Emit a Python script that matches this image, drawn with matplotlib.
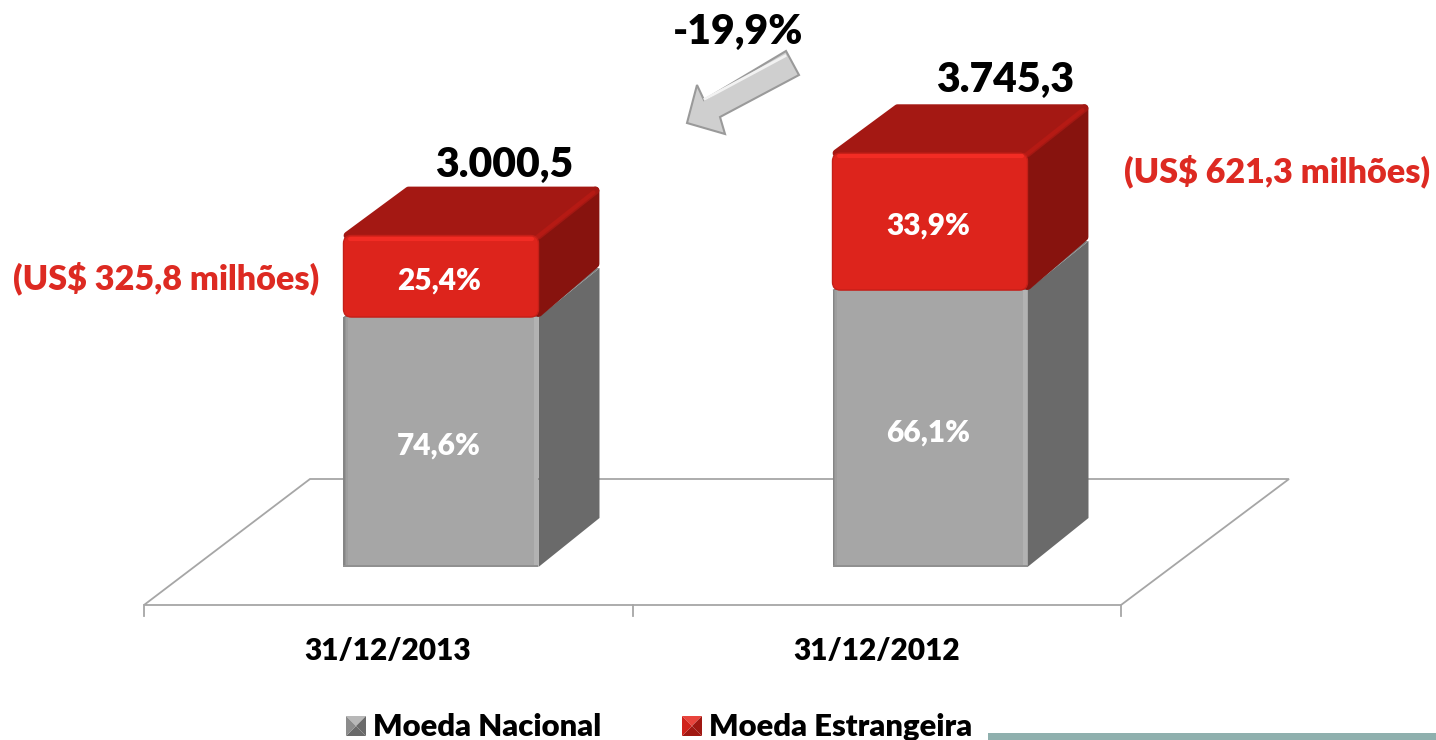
import matplotlib
matplotlib.use("Agg")
import matplotlib.pyplot as plt
from matplotlib.patches import Polygon, FancyBboxPatch, Rectangle

plt.rcParams['font.family'] = ['Lato', 'DejaVu Sans']

dates = ['31/12/2013', '31/12/2012']
totals = ['3.000,5', '3.745,3']
nacional = [2262, 2506]
estrangeira = [738, 1239]
nacional_pct = ['74,6%', '66,1%']
estrangeira_pct = ['25,4%', '33,9%']
usd_labels = ['(US$ 325,8 milhões)', '(US$ 621,3 milhões)']
change_label = '-19,9%'

W, H = 1436, 740
PX_X = 489.0   # pixels per category
PX_Y = 0.1105  # pixels per value unit
X0, Y0 = 441.0, 567.0  # pixel position of first bar, value zero
BAR_W = 195 / PX_X
DX = 61 / PX_X
DY = 49 / PX_Y
WEIGHT = 'heavy'


def px(x, y):
    # picture pixel -> data coords, for annotations
    return (x - X0) / PX_X, (Y0 - y) / PX_Y


def box(ax, x, bottom, height, top, side, soft=0):
    left = x - BAR_W / 2
    right = left + BAR_W
    upper = bottom + height
    i_x, i_y = soft / PX_X, soft / PX_Y
    ax.add_patch(Polygon([(right, bottom + i_y), (right + DX - i_x, bottom + DY + i_y),
                          (right + DX - i_x, upper + DY - i_y), (right, upper)],
                         fc=side, ec=side, lw=soft * 1.4, joinstyle='round', zorder=3))
    ax.add_patch(Polygon([(left + i_x, upper), (left + DX + i_x, upper + DY - i_y),
                          (right + DX - i_x, upper + DY - i_y), (right, upper)],
                         fc=top, ec=top, lw=soft * 1.4, joinstyle='round', zorder=3))
    return left, right, upper


def main():
    fig = plt.figure(figsize=(W / 100, H / 100), dpi=100)
    ax = fig.add_axes([0, 0, 1, 1])
    ax.set_xlim(-X0 / PX_X, (W - X0) / PX_X)
    ax.set_ylim((Y0 - H) / PX_Y, Y0 / PX_Y)
    ax.axis('off')

    # floor
    floor = [px(144, 605), px(310, 479), px(1289, 479), px(1121, 605)]
    ax.add_patch(Polygon(floor, closed=True, fill=False, ec='#a6a6a6', lw=1.3, zorder=1))
    for tx in [144, 633, 1121]:
        ax.plot(*zip(px(tx, 605), px(tx, 616)), color='#a6a6a6', lw=1.3, zorder=1)

    for i in range(len(dates)):
        # grey part
        left, right, upper = box(ax, i, 0, nacional[i], '#808080', '#6a6a6a')
        ax.add_patch(Rectangle((left, 0), BAR_W, nacional[i], color='#a6a6a6', lw=0, zorder=4))
        for k, c in enumerate(['#858585', '#939393', '#9e9e9e']):
            ax.add_patch(Rectangle((left + k / PX_X * 1.5, 0), 1.5 / PX_X, nacional[i], color=c, lw=0, zorder=4))
        ax.add_patch(Rectangle((right - 4 / PX_X, 0), 4 / PX_X, nacional[i], color='#b2b2b2', lw=0, zorder=4))
        ax.add_patch(Rectangle((left, 0), BAR_W, 2 / PX_Y, color='#909090', lw=0, zorder=4))

        # red part
        left, right, upper = box(ax, i, nacional[i], estrangeira[i], '#a41813', '#87130e', soft=4)
        ax.plot([right - 2 / PX_X, right + DX - 6 / PX_X], [upper - 2 / PX_Y, upper + DY - 6 / PX_Y],
                color='#b51a14', lw=3, zorder=4, solid_capstyle='round')
        pad = 8
        ax.add_patch(FancyBboxPatch((left + pad / PX_X, nacional[i] + pad / PX_Y),
                                    BAR_W - 2 * pad / PX_X, estrangeira[i] - 2 * pad / PX_Y,
                                    boxstyle=f'round,pad={pad / PX_X},rounding_size={pad / PX_X}',
                                    mutation_aspect=PX_X / PX_Y,
                                    fc='#dd241c', ec='#c41f18', lw=1, zorder=5))
        ax.plot([left + 6 / PX_X, right - 6 / PX_X], [upper - 3 / PX_Y] * 2, color='#f22c24', lw=3, zorder=6,
                solid_capstyle='round')

        shift = 4 / PX_Y
        tx = i - 2 / PX_X
        ax.text(tx, nacional[i] / 2 - shift, nacional_pct[i], color='white', fontsize=21.5,
                fontweight=WEIGHT, ha='center', va='center', zorder=7)
        ax.text(tx, nacional[i] + estrangeira[i] / 2 - shift, estrangeira_pct[i], color='white', fontsize=21.5,
                fontweight=WEIGHT, ha='center', va='center', zorder=7)
        ax.text(*px(388 + i * 489, 651), dates[i], fontsize=21.5, fontweight=WEIGHT, ha='center', va='center')

    ax.text(*px(504, 165), totals[0], fontsize=29.4, fontweight=WEIGHT, ha='center', va='center')
    ax.text(*px(1005, 80), totals[1], fontsize=29.4, fontweight=WEIGHT, ha='center', va='center')
    ax.text(*px(166, 278), usd_labels[0], fontsize=24.6, fontweight=WEIGHT, color='#dd2a22', ha='center', va='center')
    ax.text(*px(1277, 171), usd_labels[1], fontsize=24.6, fontweight=WEIGHT, color='#dd2a22', ha='center', va='center')
    ax.text(*px(738, 32), change_label, fontsize=29.4, fontweight=WEIGHT, ha='center', va='center')

    # arrow
    arrow = [(786, 51), (799, 75), (720, 117), (725, 134), (687, 123), (697, 85), (704, 100)]
    ax.add_patch(Polygon([px(*p) for p in arrow], closed=True, fc='#cfcfcf', ec='#9a9a9a', lw=1.5, zorder=3))
    ax.plot(*zip(px(785, 56), px(705, 99)), color='#f2f2f2', lw=2, zorder=4)

    # legend
    for lx, text, base, dark, light in [(346, 'Moeda Nacional', '#8c8c8c', '#6a6a6a', '#b8b8b8'),
                                        (682, 'Moeda Estrangeira', '#d0211a', '#a01812', '#e8443c')]:
        c = (lx + 10, 726)
        a, b, d, e = (lx, 716), (lx + 20, 716), (lx + 20, 736), (lx, 736)
        ax.add_patch(Polygon([px(*p) for p in (a, b, c)], color=light, lw=0))
        ax.add_patch(Polygon([px(*p) for p in (b, d, c)], color=dark, lw=0))
        ax.add_patch(Polygon([px(*p) for p in (d, e, c)], color=dark, lw=0))
        ax.add_patch(Polygon([px(*p) for p in (e, a, c)], color=base, lw=0))
        ax.text(*px(lx + 27, 727), text, fontsize=22.3, fontweight=WEIGHT, ha='left', va='center')

    # rule at bottom right
    ax.add_patch(Rectangle(px(988, 740), 448 / PX_X, 7 / PX_Y, color='#8fb0ae', lw=0))

    fig.savefig('out.png', dpi=100)


if __name__ == '__main__':
    main()
